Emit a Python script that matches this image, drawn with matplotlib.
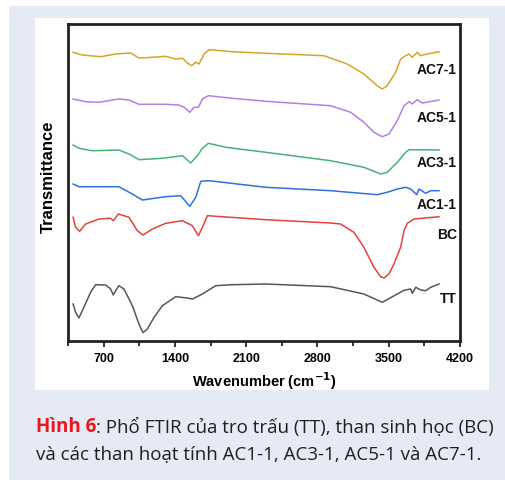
import numpy as np
import matplotlib
matplotlib.use('Agg')
import matplotlib.pyplot as plt
from matplotlib.patches import Rectangle
from matplotlib.ticker import MultipleLocator

# FTIR spectra (wavenumber in cm-1, transmittance in arbitrary offset units)
ac7_wn = [400, 491, 671, 818, 965, 1047, 1179, 1310, 1408, 1474, 1523, 1565, 1605, 1637, 1686,
          1735, 1965, 2293, 2863, 3092, 3256, 3387, 3436, 3485, 3568, 3617, 3666, 3699, 3731,
          3780, 3814, 3879, 3994]
ac7_t = [288.7, 286, 284.3, 287, 288, 283, 283.7, 284.7, 282, 282.7, 278, 275.3, 278.7, 277, 287,
         291.3, 289.3, 287.7, 285.3, 277, 267, 255.3, 252, 255.3, 268.7, 282, 285.3, 287, 283.7,
         288.7, 285.3, 287, 289.3]

ac5_wn = [400, 523, 654, 850, 949, 1047, 1310, 1440, 1490, 1546, 1588, 1631, 1670, 1729, 1965,
          2293, 2929, 3126, 3256, 3355, 3436, 3502, 3584, 3650, 3699, 3731, 3780, 3830, 3994]
ac5_t = [242, 239.3, 238.7, 242, 241, 236.7, 236.7, 236, 233.7, 228.7, 233.7, 233.7, 242, 245.3, 242.7,
         239.7, 235.3, 228.7, 218.7, 208.7, 204.3, 207, 220.3, 235.3, 239.3, 237, 241.3, 238, 241]

ac3_wn = [400, 457, 589, 850, 949, 1047, 1277, 1474, 1555, 1621, 1670, 1729, 1900, 2293, 2929,
          3256, 3421, 3486, 3584, 3666, 3699, 3994]
ac3_t = [196, 192.7, 190.3, 191, 187, 181.3, 182.7, 185.3, 178, 185.3, 192.7, 197.7, 193.7, 188.7, 180.3,
         173.7, 167, 168.7, 178.7, 188.7, 191.3, 191]

ac1_wn = [400, 457, 850, 982, 1080, 1310, 1457, 1546, 1605, 1654, 1735, 2293, 2929, 3387, 3485,
          3584, 3666, 3716, 3775, 3797, 3863, 3912, 3994]
ac1_t = [157, 154.3, 154.3, 147, 141, 144.3, 145.3, 134.7, 143.7, 159.7, 160.3, 153.7, 150.3, 146.3, 148.7,
         152, 153.7, 152, 146.3, 152, 147.7, 150.3, 150.3]

bc_wn = [400, 425, 464, 523, 654, 769, 795, 845, 949, 1031, 1086, 1179, 1310, 1474, 1571, 1631,
         1670, 1719, 2293, 2929, 3027, 3158, 3256, 3355, 3421, 3453, 3502, 3551, 3617, 3650, 3682,
         3748, 3994]
bc_t = [123.7, 113.7, 109.7, 117, 122, 122.7, 120.3, 127, 123.7, 110.3, 106, 112, 117.7, 120.3, 115.3, 105.3,
        113.7, 125.3, 121.3, 118, 117, 108.7, 93.7, 73.7, 64.3, 63, 67, 77, 93.7, 110.3, 117.7,
        122, 124.3]

tt_wn = [400, 425, 457, 506, 572, 621, 720, 769, 795, 818, 850, 900, 982, 1047, 1086, 1130, 1195,
         1277, 1408, 1523, 1572, 1670, 1801, 1965, 2293, 2929, 3256, 3436, 3584, 3650, 3716, 3731,
         3765, 3814, 3863, 3912, 3994]
tt_t = [37, 28.7, 23, 33.7, 48.7, 56.3, 56, 52, 46, 50.3, 55.3, 52, 35.3, 17, 8.3, 12, 23.7,
        35.3, 44.3, 43, 42, 47, 55.3, 56.3, 57, 54.3, 47, 38.7, 47, 50.7, 52, 47.7,
        53.7, 51, 50.3, 53.7, 57]

names = ['AC7-1', 'AC5-1', 'AC3-1', 'AC1-1', 'BC', 'TT']
label_y = [272, 224, 179, 137, 107, 43]

W, H = 505, 481
fig = plt.figure(figsize=(W / 100, H / 100), dpi=100)
fig.patch.set_facecolor('white')

# background panels (pixel coords -> figure fractions)
def px_rect(x0, y0, x1, y1, color):
    fig.patches.append(Rectangle((x0 / W, 1 - y1 / H), (x1 - x0) / W, (y1 - y0) / H,
                                 transform=fig.transFigure, facecolor=color,
                                 edgecolor='none', zorder=-10))

px_rect(9, 7, 505, 481, '#e5eaf5')
px_rect(35, 19, 489, 391, 'white')

ax = fig.add_axes([68 / W, 1 - 342 / H, (460 - 68) / W, (342 - 25) / H])

series = [
    (ac7_wn, ac7_t, '#d6a42a'),
    (ac5_wn, ac5_t, '#b47fe0'),
    (ac3_wn, ac3_t, '#45b27a'),
    (ac1_wn, ac1_t, '#2e72d8'),
    (bc_wn, bc_t, '#e6403e'),
    (tt_wn, tt_t, '#575757'),
]
for (wn, t, c), name, ly in zip(series, names, label_y):
    ax.plot(wn, t, color=c, lw=1.1)
    ax.text(4170, ly, name, ha='right', va='center', fontsize=10,
            fontweight='bold', family='Liberation Sans', color='#111111')

ax.set_xlim(350, 4200)
ax.set_ylim(0, 317)
ax.xaxis.set_major_locator(MultipleLocator(700))
ax.xaxis.set_minor_locator(MultipleLocator(350))
ax.set_xticks([700, 1400, 2100, 2800, 3500, 4200])
ax.set_yticks([])
ax.tick_params(axis='x', which='major', direction='out', length=4.5, width=1.3, pad=3.5,
               color='#222222')
ax.tick_params(axis='x', which='minor', direction='out', length=3.5, width=1.3, color='#222222')
for lab in ax.get_xticklabels():
    lab.set_fontweight('bold')
    lab.set_fontsize(9)
    lab.set_family('Liberation Sans')
for side in ['left', 'right', 'top', 'bottom']:
    ax.spines[side].set_visible(True)
    ax.spines[side].set_linewidth(2.0)
    ax.spines[side].set_color('#222222')

ax.set_xlabel('Wavenumber (cm$^{\\mathbf{-1}}$)', fontsize=10.5, fontweight='bold',
              family='Liberation Sans', labelpad=4)
ax.set_ylabel('Transmittance', fontsize=12, fontweight='bold',
              family='Liberation Sans')
ax.yaxis.set_label_coords(-0.03, 0.52)

# caption
cap_font = ['Open Sans', 'DejaVu Sans']
t1 = fig.text(36 / W, 1 - 432 / H, 'Hình 6', color='#e8171f', fontweight='bold',
              fontsize=13.5, family=cap_font, va='baseline')
ax.annotate(': Phổ FTIR của tro trấu (TT), than sinh học (BC)', xy=(1, 0),
            xycoords=t1, va='bottom', fontsize=13.5, family=cap_font, color='#231f20',
            annotation_clip=False)
fig.text(36 / W, 1 - 460 / H, 'và các than hoạt tính AC1-1, AC3-1, AC5-1 và AC7-1.',
         fontsize=13.5, family=cap_font, color='#231f20', va='baseline')

fig.savefig('out.png', dpi=100)
